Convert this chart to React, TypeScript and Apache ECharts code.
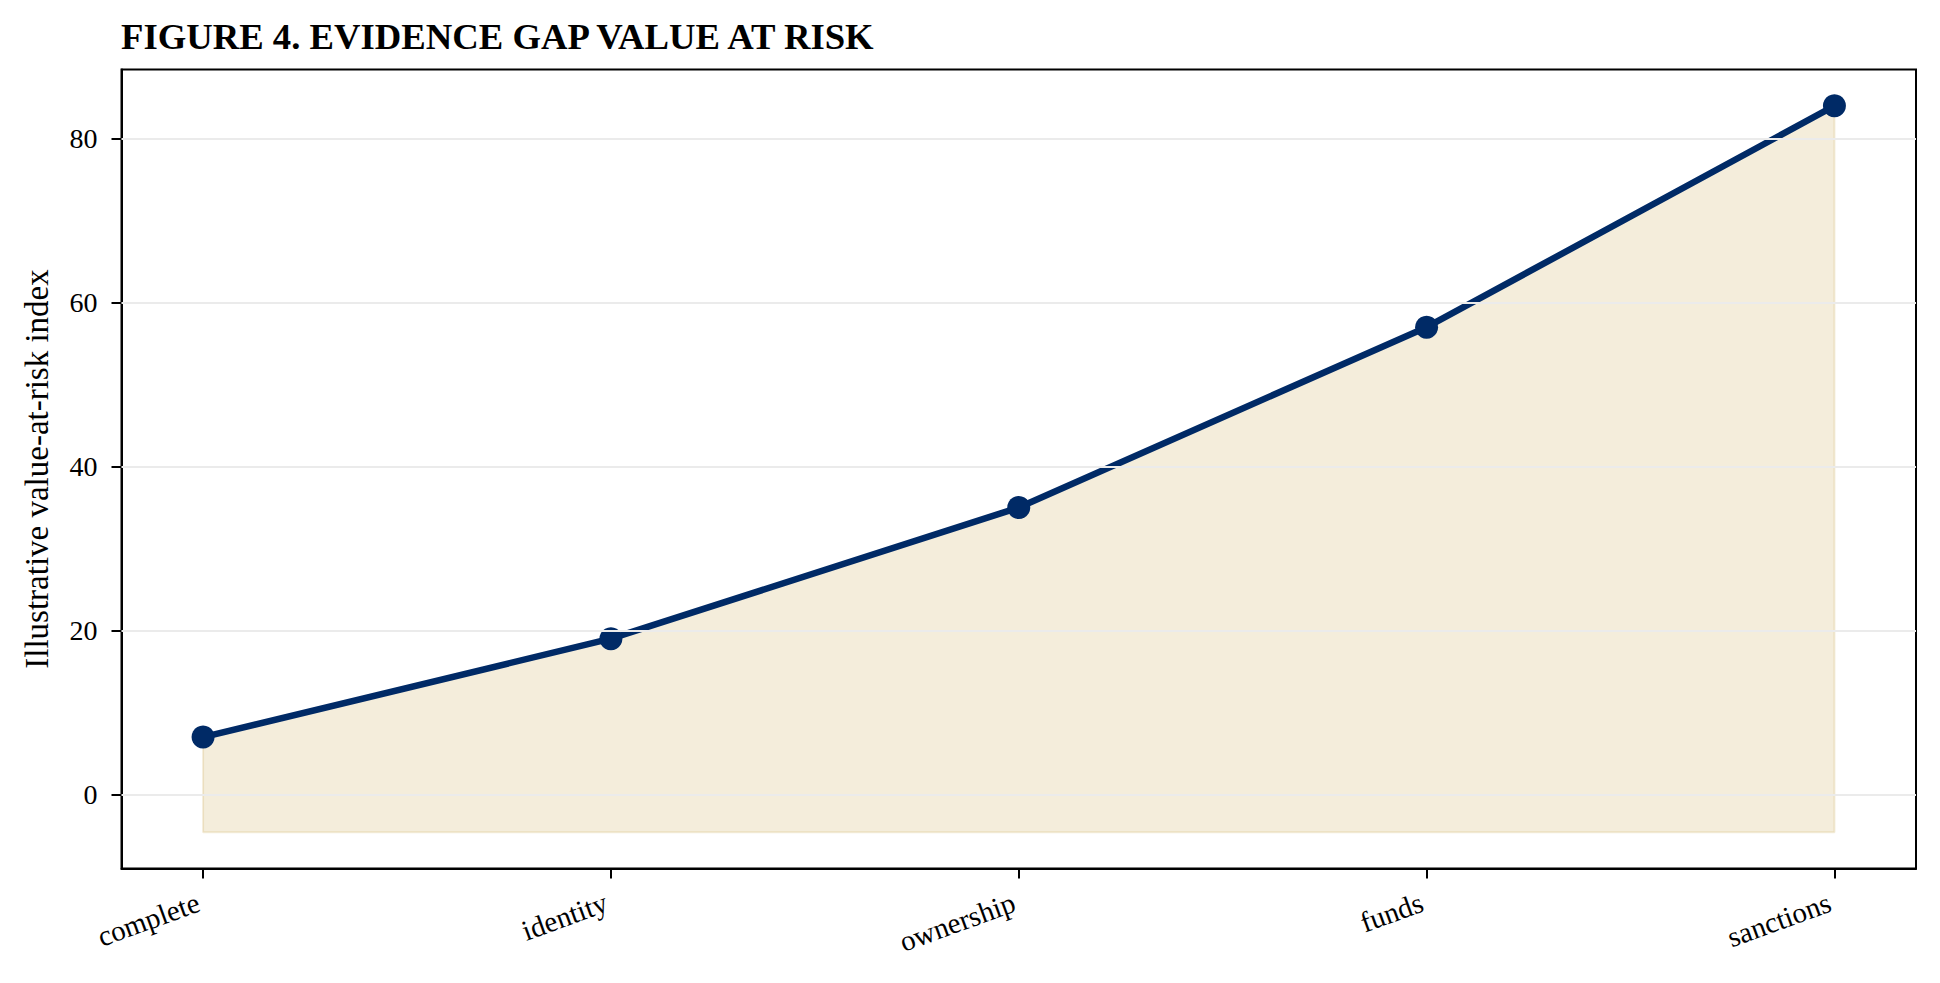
import { useEffect, useRef } from 'react'
import * as echarts from 'echarts'

const categories = ['complete', 'identity', 'ownership', 'funds', 'sanctions']
const riskIndex = [7, 19, 35, 57, 84]
const fillBaseline = -4.6
const yTicks = [0, 20, 40, 60, 80]
const xTicks = [0, 1, 2, 3, 4]

const FONT = 'Liberation Serif'
const NAVY = '#002a66'
const GOLD = '#b8860b'

export default function App() {
  const ref = useRef<HTMLDivElement | null>(null)

  useEffect(() => {
    if (!ref.current) return
    const chart = echarts.init(ref.current, null, { renderer: 'svg' })

    const last = riskIndex.length - 1
    const points = riskIndex.map((v, i) => [i, v])
    // outline of the shaded band (left, bottom, right edges)
    const outline = [
      [0, riskIndex[0]],
      [0, fillBaseline],
      [last, fillBaseline],
      [last, riskIndex[last]],
    ]

    chart.setOption({
      animation: false,
      title: {
        text: 'FIGURE 4. EVIDENCE GAP VALUE AT RISK',
        left: 121,
        top: 18,
        padding: 0,
        textStyle: { fontFamily: FONT, fontSize: 36.7, fontWeight: 'bold', color: '#000' },
      },
      grid: {
        left: 121.5,
        right: 24,
        top: 69.5,
        bottom: 114.5,
        show: true,
        borderColor: '#000',
        borderWidth: 2,
        backgroundColor: 'transparent',
      },
      xAxis: {
        type: 'value',
        min: -0.2,
        max: 4.2,
        axisLine: { show: true, onZero: false, lineStyle: { color: '#000', width: 2 } },
        axisTick: { show: true, customValues: xTicks, length: 10, lineStyle: { color: '#000', width: 2 } },
        axisLabel: {
          customValues: xTicks,
          formatter: (v: number) => categories[Math.round(v)] ?? '',
          rotate: 20,
          margin: 31,
          padding: [0, 5, 0, 0],
          fontFamily: FONT,
          fontSize: 29,
          color: '#000',
        },
        splitLine: { show: false },
      },
      yAxis: {
        type: 'value',
        min: -9.03,
        max: 88.43,
        name: 'Illustrative value-at-risk index',
        nameLocation: 'middle',
        nameGap: 68,
        nameTextStyle: { fontFamily: FONT, fontSize: 33, color: '#000' },
        axisLine: { show: true, onZero: false, lineStyle: { color: '#000', width: 2 } },
        axisTick: { show: true, customValues: yTicks, length: 10, lineStyle: { color: '#000', width: 2 } },
        axisLabel: {
          customValues: yTicks,
          margin: 24,
          fontFamily: FONT,
          fontSize: 28,
          color: '#000',
        },
        splitLine: { show: false },
      },
      series: [
        {
          type: 'line',
          data: [],
          z: 1,
          silent: true,
          markLine: {
            silent: true,
            symbol: ['none', 'none'],
            label: { show: false },
            lineStyle: { color: '#ebebeb', width: 2, type: 'solid' },
            emphasis: { disabled: true },
            data: yTicks.map((v) => ({ yAxis: v })),
          },
        },
        {
          type: 'line',
          data: outline,
          z: 2,
          silent: true,
          showSymbol: false,
          symbol: 'none',
          lineStyle: { color: GOLD, opacity: 0.15, width: 2 },
        },
        {
          type: 'line',
          data: points,
          z: 3,
          symbol: 'circle',
          symbolSize: 23,
          showSymbol: true,
          lineStyle: { color: NAVY, width: 6.5 },
          itemStyle: { color: NAVY, borderWidth: 0 },
          areaStyle: { color: GOLD, opacity: 0.15, origin: fillBaseline },
          emphasis: { disabled: true },
        },
      ],
    })

    const handleResize = () => chart.resize()
    window.addEventListener('resize', handleResize)
    return () => {
      window.removeEventListener('resize', handleResize)
      chart.dispose()
    }
  }, [])

  return (
    <div
      ref={ref}
      style={{ position: 'absolute', left: 0, top: 0, width: 1940, height: 983, background: '#fff' }}
    />
  )
}
